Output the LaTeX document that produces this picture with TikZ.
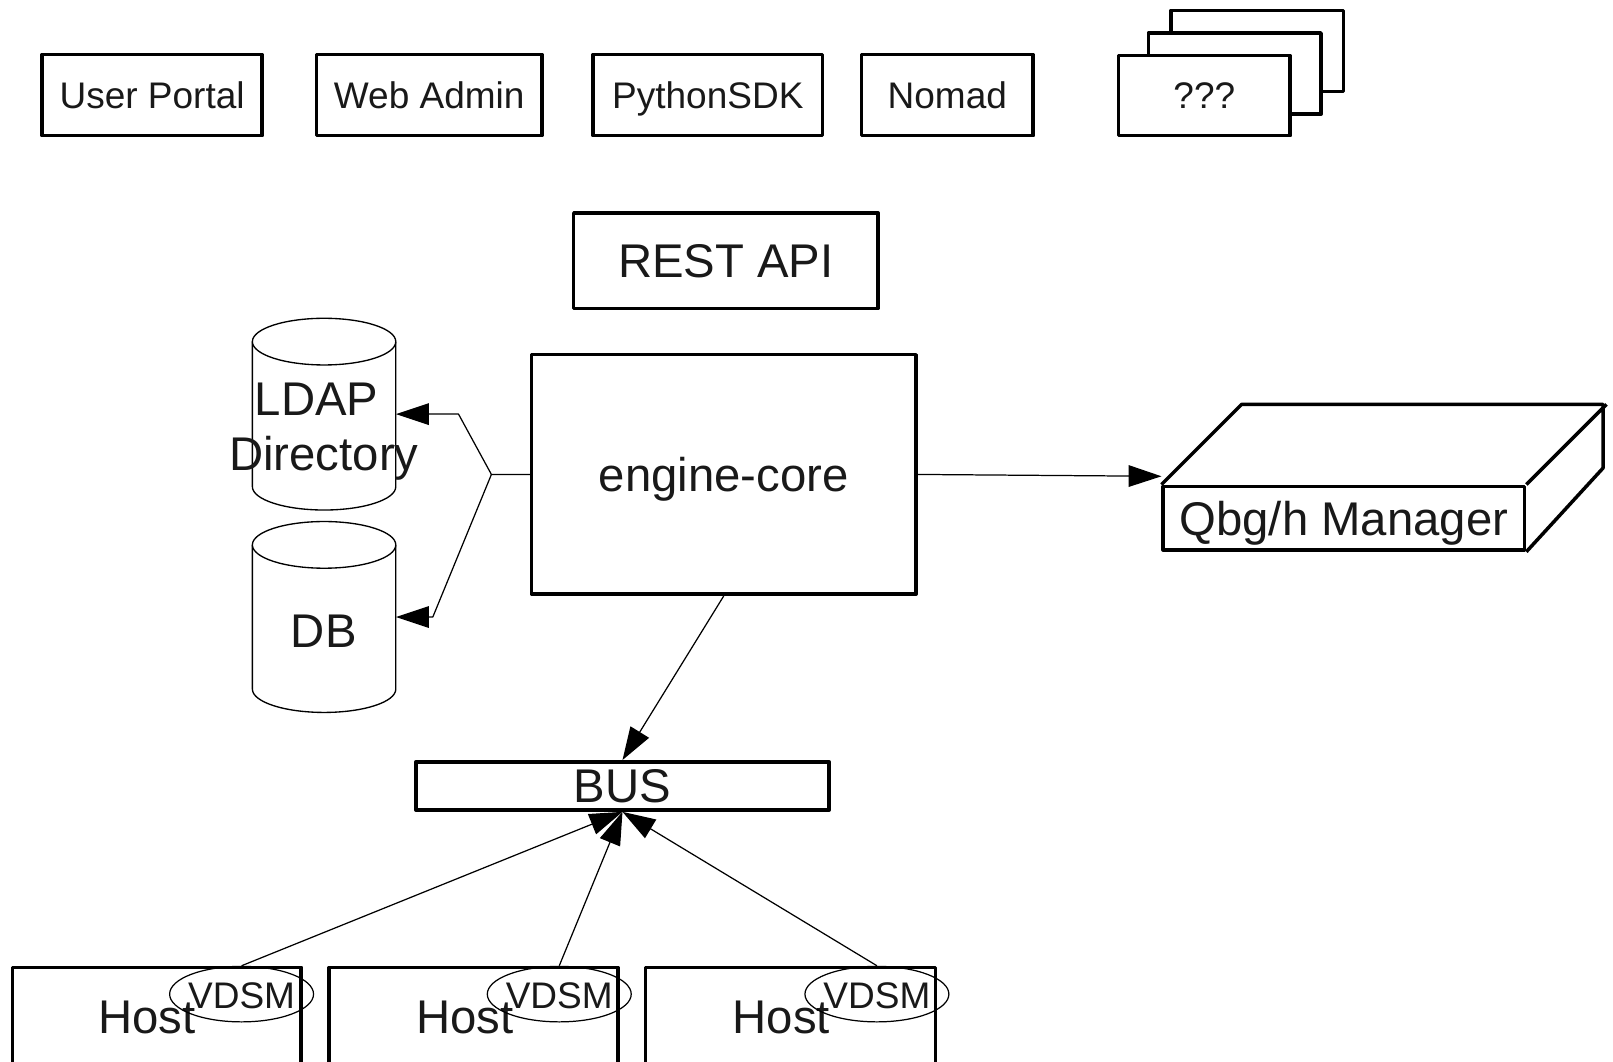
\documentclass[tikz,border=0pt]{standalone}
\usepackage{fontspec}
\setmainfont{Liberation Sans}
\usetikzlibrary{arrows.meta,shapes.geometric,calc}
\definecolor{txt}{gray}{0.1}
\begin{document}
\begin{tikzpicture}[x=1pt,y=-1pt,
  box/.style={draw,line width=3.4pt,line join=round,rectangle,inner sep=0pt,fill=white,text=txt},
  sm/.style={font=\fontsize{36pt}{41pt}\selectfont,text height=25.8pt,text depth=0pt},
  bg/.style={font=\fontsize{46pt}{53pt}\selectfont,text height=32.9pt,text depth=0pt},
  lbl/.style={inner sep=0pt,text=txt},
  cylline/.style={line width=1.3pt,fill=white},
  arr/.style={line width=1.2pt,line join=round,-{Triangle[length=32pt,width=21pt]}},
  vd/.style={draw,ellipse,line width=1.2pt,inner sep=0pt,minimum width=140pt,minimum height=54pt}]
\fill[white] (0,0) rectangle (1569,1033);
\useasboundingbox (0,0) rectangle (1569,1033);

% top row
\node[box,sm,minimum width=214pt,minimum height=79pt] (up) at (148,92.5) {User Portal};
\node[box,sm,minimum width=219pt,minimum height=79pt] (wa) at (417.5,92.5) {Web Admin};
\node[box,sm,minimum width=223pt,minimum height=79pt] (py) at (688.5,92.5) {PythonSDK};
\node[box,sm,minimum width=167pt,minimum height=79pt] (nomad) at (921.5,92.5) {Nomad};
\node[box,minimum width=168pt,minimum height=79pt] (q3) at (1223,49.5) {};
\node[box,minimum width=168pt,minimum height=79pt] (q2) at (1201,71.5) {};
\node[box,sm,minimum width=167pt,minimum height=78pt] (q1) at (1171.5,93) {???};

% REST API and engine-core
\node[box,bg,minimum width=296pt,minimum height=93pt] (rest) at (706,253.5) {REST API};
\node[box,bg,minimum width=374pt,minimum height=233pt] (engine) at (704,461.5) {engine-core};

% cylinders
\node[inner sep=0pt,minimum width=139.5pt,minimum height=186.4pt] (ldap) at (315.25,402.8) {};
\draw[cylline] (245.5,332.3) -- (245.5,473.4) arc[start angle=180,end angle=360,x radius=69.75pt,y radius=22.7pt] -- (385,332.3);
\draw[cylline] (315.25,332.3) ellipse [x radius=69.75pt,y radius=22.7pt];
\node[lbl,bg] (ldapa) at (308,388) {LDAP};
\node[lbl,bg] (ldapb) at (315,441) {Directory};

\node[inner sep=0pt,minimum width=139.5pt,minimum height=185.7pt] (db) at (315.25,600.2) {};
\draw[cylline] (245.5,530) -- (245.5,670.3) arc[start angle=180,end angle=360,x radius=69.75pt,y radius=22.7pt] -- (385,530);
\draw[cylline] (315.25,530) ellipse [x radius=69.75pt,y radius=22.7pt];
\node[lbl,bg] (dbt) at (315,613) {DB};

% Qbg/h Manager
\node[box,bg,minimum width=351.5pt,minimum height=62pt] (qbg) at (1307.25,504) {Qbg/h Manager};
\draw[line width=3.4pt,line join=round] (qbg.north west) -- ++(78,-78) -- ++(351.5,0) -- ++(0,62) -- (qbg.south east)
  (qbg.north east) -- ++(78,-78);
\coordinate (qtip) at ([yshift=8pt]qbg.north west);

% BUS
\node[box,bg,minimum width=402pt,minimum height=47pt] (bus) at (605.5,764.5) {BUS};

% hosts
\node[box,minimum width=281pt,minimum height=100pt] (h1) at (152.5,991) {};
\node[box,minimum width=281pt,minimum height=100pt] (h2) at (460.5,991) {};
\node[box,minimum width=282pt,minimum height=100pt] (h3) at (769,991) {};
\node[lbl,bg] (h1t) at (143,989) {Host};
\node[lbl,bg] (h2t) at (452,989) {Host};
\node[lbl,bg] (h3t) at (760,989) {Host};
\node[vd] (v1) at (235,967) {};
\node[vd] (v2) at (544,967) {};
\node[vd] (v3) at (853,967) {};
\node[lbl,sm] (v1t) at (235,968) {VDSM};
\node[lbl,sm] (v2t) at (544,968) {VDSM};
\node[lbl,sm] (v3t) at (853,968) {VDSM};

% connectors
\coordinate (j) at (478,461.5);
\coordinate (jl) at (446,402.8);
\coordinate (jd) at (421,600.2);
\draw[arr] (engine.west) -- (j) -- (jl) -- (ldap.east);
\draw[arr] (j) -- (jd) -- (db.east);
\draw[arr] (engine.east) -- (qtip);
\draw[arr] (engine.south) -- (bus.north);
\draw[arr] (v1.north) -- (bus.south);
\draw[arr] (v2.north) -- (bus.south);
\draw[arr] (v3.north) -- (bus.south);
\end{tikzpicture}
\end{document}
